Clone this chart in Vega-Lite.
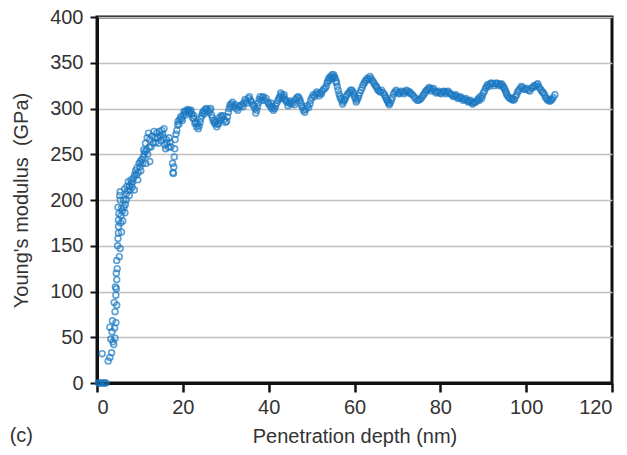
{
  "$schema": "https://vega.github.io/schema/vega-lite/v6.json",
  "width": 515,
  "height": 366,
  "autosize": {"type": "none"},
  "padding": {"left": 97, "top": 17, "right": 15, "bottom": 72},
  "background": "white",
  "config": {
    "font": "Liberation Sans",
    "view": {"stroke": "#111", "strokeWidth": 3},
    "axis": {"labelFont": "Liberation Sans", "titleFont": "Liberation Sans", "labelColor": "#333", "titleColor": "#333", "labelFontSize": 20, "titleFontSize": 20, "titleFontWeight": "normal"}
  },
  "title": {"text": "(c)", "orient": "bottom", "anchor": "start", "frame": "bounds", "fontSize": 20, "fontWeight": "normal", "color": "#333", "font": "Liberation Sans", "offset": -20, "dx": -2},
  "data": {"values": [
    {"d":0.3,"e":0},{"d":0.6,"e":0},{"d":1.0,"e":0},{"d":1.4,"e":0},{"d":1.8,"e":0},{"d":2.1,"e":0},
    {"d":1.2,"e":32},{"d":2.6,"e":24},{"d":3.0,"e":28},{"d":3.4,"e":33},{"d":3.0,"e":61},{"d":3.5,"e":56},{"d":3.7,"e":45},{"d":3.9,"e":42},{"d":4.2,"e":49},{"d":4.4,"e":66},{"d":4.2,"e":78},{"d":4.6,"e":85},{"d":4.4,"e":96},{"d":4.5,"e":103},{"d":4.6,"e":113},{"d":4.5,"e":120},{"d":4.7,"e":125},{"d":4.6,"e":134},{"d":5.2,"e":138},{"d":5.4,"e":147},{"d":5.0,"e":164},{"d":5.0,"e":171},{"d":5.0,"e":178},{"d":5.7,"e":165},{"d":6.0,"e":177},{"d":6.5,"e":186},{"d":5.7,"e":191},{"d":5.4,"e":200},{"d":5.4,"e":209},{"d":5.3,"e":205},{"d":6.6,"e":195},{"d":6.9,"e":207},{"d":7.7,"e":211},{"d":7.3,"e":220},{"d":8.7,"e":211},{"d":8.5,"e":224},{"d":9.2,"e":227},{"d":10.0,"e":236},{"d":10.8,"e":247},{"d":11.6,"e":255},{"d":12.3,"e":242},
    {"d":3.2,"e":48},{"d":3.6,"e":68},{"d":4.0,"e":88},{"d":4.3,"e":105},{"d":4.1,"e":60},{"d":4.8,"e":150},{"d":4.9,"e":158},{"d":5.1,"e":185},{"d":4.9,"e":192},{"d":5.5,"e":175},
    {"d":5.6,"e":183},{"d":5.9,"e":188},{"d":6.3,"e":192},{"d":6.8,"e":200},{"d":7.1,"e":210},{"d":7.6,"e":215},{"d":7.9,"e":222},{"d":8.3,"e":220},{"d":8.8,"e":228},{"d":9.3,"e":235},{"d":9.6,"e":230},{"d":10.1,"e":242},{"d":10.6,"e":240},{"d":10.9,"e":255},{"d":11.3,"e":262},{"d":11.7,"e":268},{"d":11.8,"e":250},{"d":12.2,"e":258},{"d":12.8,"e":270},{"d":13.3,"e":275},{"d":13.7,"e":263},{"d":14.1,"e":268},{"d":14.5,"e":275},{"d":14.9,"e":265},{"d":15.6,"e":278},{"d":16.2,"e":266},{"d":16.8,"e":268},{"d":17.2,"e":258},
    {"d":6.2,"e":200},{"d":6.4,"e":212},{"d":7.0,"e":215},{"d":7.5,"e":205},{"d":8.0,"e":218},{"d":8.2,"e":214},{"d":9.0,"e":232},{"d":9.5,"e":222},{"d":9.8,"e":240},{"d":10.4,"e":244},{"d":10.2,"e":232},{"d":11.0,"e":250},{"d":11.2,"e":253},{"d":11.4,"e":240},{"d":12.0,"e":273},{"d":12.3,"e":266},{"d":12.6,"e":258},{"d":13.1,"e":262},{"d":13.5,"e":268},{"d":13.9,"e":273},{"d":14.3,"e":262},{"d":14.7,"e":270},{"d":15.1,"e":276},{"d":15.3,"e":272},{"d":15.5,"e":268},{"d":15.8,"e":260},{"d":16.0,"e":256},{"d":16.3,"e":262},{"d":16.6,"e":258},{"d":17.0,"e":263},
    {"d":17.6,"e":240},{"d":17.7,"e":230},{"d":17.8,"e":229},{"d":17.9,"e":236},{"d":18.0,"e":247},{"d":18.1,"e":256},{"d":18.2,"e":266},{"d":18.4,"e":272},{"d":18.6,"e":276},{"d":18.8,"e":282},{"d":18.9,"e":286},{"d":19.3,"e":288},{"d":19.7,"e":289},{"d":20.1,"e":293},{"d":20.5,"e":296},{"d":20.9,"e":297},{"d":21.3,"e":298},{"d":21.7,"e":297},{"d":22.1,"e":294},{"d":22.5,"e":289},{"d":22.8,"e":284},{"d":23.2,"e":280},{"d":23.6,"e":278},{"d":24.0,"e":285},{"d":24.4,"e":292},{"d":24.8,"e":297},{"d":25.2,"e":299},{"d":25.7,"e":298},{"d":26.3,"e":298},{"d":26.7,"e":293},{"d":27.1,"e":287},{"d":27.5,"e":283},{"d":27.9,"e":280},{"d":28.3,"e":283},{"d":28.7,"e":287},{"d":29.1,"e":290},{"d":29.6,"e":288},{"d":30.2,"e":286},{"d":30.6,"e":296},{"d":31.0,"e":304},{"d":31.4,"e":305},{"d":31.9,"e":302},{"d":32.5,"e":300},{"d":33.0,"e":302},{"d":33.7,"e":304},{"d":34.2,"e":306},{"d":34.7,"e":308},{"d":35.3,"e":311},{"d":35.8,"e":309},{"d":36.3,"e":304},{"d":36.8,"e":300},{"d":37.2,"e":298},{"d":37.6,"e":306},{"d":38.0,"e":313},{"d":38.5,"e":312},{"d":39.0,"e":309},{"d":39.8,"e":307},{"d":40.3,"e":303},{"d":40.7,"e":300},{"d":41.1,"e":298},{"d":41.6,"e":303},{"d":42.2,"e":309},{"d":42.6,"e":313},{"d":43.0,"e":315},{"d":43.4,"e":313},{"d":43.8,"e":310},{"d":44.2,"e":307},{"d":44.7,"e":306},{"d":45.2,"e":305},{"d":45.7,"e":306},{"d":46.3,"e":310},{"d":46.9,"e":313},{"d":47.3,"e":309},{"d":47.7,"e":303},{"d":48.1,"e":298},{"d":48.6,"e":299},{"d":49.3,"e":301},{"d":49.8,"e":309},{"d":50.4,"e":315},{"d":51.0,"e":316},{"d":51.5,"e":316},{"d":52.0,"e":317},{"d":52.5,"e":319},{"d":53.1,"e":322},{"d":53.6,"e":328},{"d":54.0,"e":333},{"d":54.4,"e":335},{"d":54.8,"e":337},{"d":55.1,"e":337},{"d":55.5,"e":333},{"d":55.8,"e":328},{"d":56.2,"e":320},{"d":56.6,"e":313},{"d":57.0,"e":309},{"d":57.4,"e":307},{"d":57.8,"e":310},{"d":58.3,"e":315},{"d":58.9,"e":318},{"d":59.4,"e":320},{"d":59.8,"e":316},{"d":60.2,"e":311},{"d":60.5,"e":309},{"d":61.0,"e":314},{"d":61.5,"e":320},{"d":62.0,"e":326},{"d":62.5,"e":330},{"d":63.0,"e":333},{"d":63.6,"e":335},{"d":64.1,"e":331},{"d":64.6,"e":327},{"d":65.1,"e":324},{"d":65.5,"e":320},{"d":66.0,"e":318},{"d":66.7,"e":317},{"d":67.2,"e":313},{"d":67.6,"e":309},{"d":67.9,"e":306},{"d":68.3,"e":306},{"d":68.8,"e":312},{"d":69.4,"e":318},{"d":70.0,"e":318},{"d":70.6,"e":317},{"d":71.2,"e":318},{"d":71.8,"e":318},{"d":72.4,"e":319},{"d":72.9,"e":318},{"d":73.5,"e":315},{"d":74.2,"e":311},{"d":74.9,"e":309},{"d":75.5,"e":311},{"d":76.1,"e":315},{"d":76.6,"e":319},{"d":77.1,"e":321},{"d":77.6,"e":322},{"d":78.1,"e":321},{"d":78.7,"e":319},{"d":79.3,"e":318},{"d":79.9,"e":317},{"d":80.5,"e":318},{"d":81.0,"e":318},{"d":81.5,"e":318},{"d":82.1,"e":317},{"d":82.7,"e":315},{"d":83.3,"e":314},{"d":83.8,"e":313},{"d":84.4,"e":312},{"d":85.0,"e":311},{"d":85.6,"e":310},{"d":86.2,"e":309},{"d":86.7,"e":308},{"d":87.2,"e":307},{"d":87.7,"e":306},{"d":88.3,"e":307},{"d":88.9,"e":311},{"d":89.3,"e":313},{"d":89.6,"e":311},{"d":90.0,"e":317},{"d":90.5,"e":322},{"d":91.0,"e":326},{"d":91.6,"e":327},{"d":92.2,"e":327},{"d":92.8,"e":327},{"d":93.4,"e":327},{"d":93.9,"e":326},{"d":94.4,"e":326},{"d":94.8,"e":323},{"d":95.2,"e":319},{"d":95.5,"e":315},{"d":96.0,"e":312},{"d":96.6,"e":310},{"d":97.0,"e":309},{"d":97.5,"e":313},{"d":98.0,"e":318},{"d":98.6,"e":322},{"d":99.2,"e":323},{"d":99.8,"e":321},{"d":100.5,"e":320},{"d":101.2,"e":322},{"d":101.8,"e":325},{"d":102.4,"e":326},{"d":102.9,"e":324},{"d":103.5,"e":320},{"d":104.0,"e":317},{"d":104.5,"e":312},{"d":105.0,"e":309},{"d":105.5,"e":308},{"d":106.0,"e":310},{"d":106.7,"e":315},
    {"d":19.1,"e":283},{"d":19.5,"e":291},{"d":19.9,"e":287},{"d":20.3,"e":297},{"d":20.7,"e":293},{"d":21.1,"e":299},{"d":21.5,"e":295},{"d":21.9,"e":298},{"d":22.3,"e":290},{"d":22.6,"e":292},{"d":23.0,"e":285},{"d":23.4,"e":283},{"d":23.8,"e":281},{"d":24.2,"e":289},{"d":24.6,"e":295},{"d":25.0,"e":294},{"d":25.5,"e":300},{"d":26.0,"e":296},{"d":26.5,"e":300},{"d":26.9,"e":290},{"d":27.3,"e":285},{"d":27.7,"e":286},{"d":28.1,"e":283},{"d":28.5,"e":290},{"d":28.9,"e":292},{"d":29.4,"e":292},{"d":29.9,"e":285},{"d":30.4,"e":291},{"d":30.8,"e":300},{"d":31.2,"e":302},{"d":31.6,"e":307},{"d":32.2,"e":304},{"d":32.8,"e":298},{"d":33.3,"e":303},{"d":34.0,"e":302},{"d":34.5,"e":310},{"d":35.0,"e":306},{"d":35.5,"e":313},{"d":36.0,"e":307},{"d":36.6,"e":303},{"d":37.0,"e":295},{"d":37.4,"e":302},{"d":37.8,"e":310},{"d":38.3,"e":309},{"d":38.8,"e":313},{"d":39.4,"e":311},{"d":40.0,"e":305},{"d":40.5,"e":306},{"d":40.9,"e":302},{"d":41.4,"e":300},{"d":41.9,"e":306},{"d":42.4,"e":311},{"d":42.8,"e":317},{"d":43.2,"e":311},{"d":43.6,"e":315},{"d":44.0,"e":309},{"d":44.5,"e":303},{"d":44.9,"e":308},{"d":45.5,"e":308},{"d":46.0,"e":304},{"d":46.6,"e":312},{"d":47.1,"e":311},{"d":47.5,"e":306},{"d":47.9,"e":301},{"d":48.4,"e":296},{"d":49.0,"e":303},{"d":49.6,"e":305},{"d":50.1,"e":312},{"d":50.7,"e":313},{"d":51.2,"e":318},{"d":51.8,"e":314},{"d":52.3,"e":316},{"d":52.8,"e":321},{"d":53.4,"e":324},{"d":53.8,"e":330},{"d":54.2,"e":331},{"d":54.6,"e":333},{"d":55.0,"e":334},{"d":55.3,"e":335},{"d":55.7,"e":330},{"d":56.0,"e":324},{"d":56.4,"e":316},{"d":56.8,"e":311},{"d":57.2,"e":305},{"d":57.6,"e":309},{"d":58.0,"e":313},{"d":58.6,"e":317},{"d":59.1,"e":320},{"d":59.6,"e":318},{"d":60.0,"e":313},{"d":60.4,"e":307},{"d":60.8,"e":311},{"d":61.2,"e":317},{"d":61.8,"e":323},{"d":62.3,"e":328},{"d":62.8,"e":331},{"d":63.3,"e":332},{"d":63.8,"e":333},{"d":64.4,"e":329},{"d":64.9,"e":325},{"d":65.3,"e":322},{"d":65.8,"e":319},{"d":66.3,"e":320},{"d":67.0,"e":315},{"d":67.4,"e":311},{"d":67.8,"e":308},{"d":68.1,"e":304},{"d":68.6,"e":309},{"d":69.1,"e":316},{"d":69.7,"e":320},{"d":70.3,"e":316},{"d":70.9,"e":319},{"d":71.5,"e":316},{"d":72.1,"e":320},{"d":72.7,"e":317},{"d":73.2,"e":316},{"d":73.9,"e":313},{"d":74.6,"e":309},{"d":75.2,"e":310},{"d":75.8,"e":313},{"d":76.4,"e":317},{"d":76.9,"e":320},{"d":77.4,"e":323},{"d":77.9,"e":319},{"d":78.4,"e":322},{"d":79.0,"e":317},{"d":79.6,"e":319},{"d":80.2,"e":316},{"d":80.8,"e":319},{"d":81.3,"e":316},{"d":81.8,"e":319},{"d":82.4,"e":316},{"d":83.0,"e":313},{"d":83.6,"e":315},{"d":84.1,"e":311},{"d":84.7,"e":313},{"d":85.3,"e":309},{"d":85.9,"e":311},{"d":86.5,"e":307},{"d":87.0,"e":309},{"d":87.5,"e":305},{"d":88.0,"e":307},{"d":88.6,"e":309},{"d":89.1,"e":309},{"d":89.8,"e":314},{"d":90.3,"e":319},{"d":90.8,"e":324},{"d":91.3,"e":324},{"d":91.9,"e":328},{"d":92.5,"e":325},{"d":93.1,"e":328},{"d":93.7,"e":325},{"d":94.2,"e":327},{"d":94.6,"e":324},{"d":95.0,"e":321},{"d":95.4,"e":317},{"d":95.8,"e":313},{"d":96.3,"e":311},{"d":96.8,"e":311},{"d":97.3,"e":310},{"d":97.8,"e":315},{"d":98.3,"e":320},{"d":98.9,"e":324},{"d":99.5,"e":321},{"d":100.2,"e":322},{"d":100.9,"e":319},{"d":101.5,"e":323},{"d":102.1,"e":324},{"d":102.7,"e":327},{"d":103.2,"e":322},{"d":103.8,"e":318},{"d":104.3,"e":315},{"d":104.8,"e":311},{"d":105.3,"e":310},{"d":105.8,"e":309},{"d":106.3,"e":312}
  ]},
  "mark": {"type": "point", "shape": "circle", "filled": false, "stroke": "#1a78c2", "strokeWidth": 1.6, "size": 34, "clip": false},
  "encoding": {
    "x": {"field": "d", "type": "quantitative", "scale": {"domain": [0, 120], "nice": false, "zero": false},
      "axis": {"values": [0, 20, 40, 60, 80, 100, 120], "grid": false, "title": "Penetration depth (nm)", "domain": true, "domainColor": "#111", "domainWidth": 3, "tickColor": "#111", "tickWidth": 2.5, "tickSize": 9, "labelPadding": 5, "titlePadding": 9}},
    "y": {"field": "e", "type": "quantitative", "scale": {"domain": [0, 400], "nice": false},
      "axis": {"values": [0, 50, 100, 150, 200, 250, 300, 350, 400], "grid": true, "gridColor": "#c0c0c0", "gridWidth": 1.5, "title": "Young's modulus\u00a0 (GPa)", "domain": true, "domainColor": "#111", "domainWidth": 3, "tickColor": "#111", "tickWidth": 2, "tickSize": 7, "labelPadding": 7, "titlePadding": 18}}
  }
}
